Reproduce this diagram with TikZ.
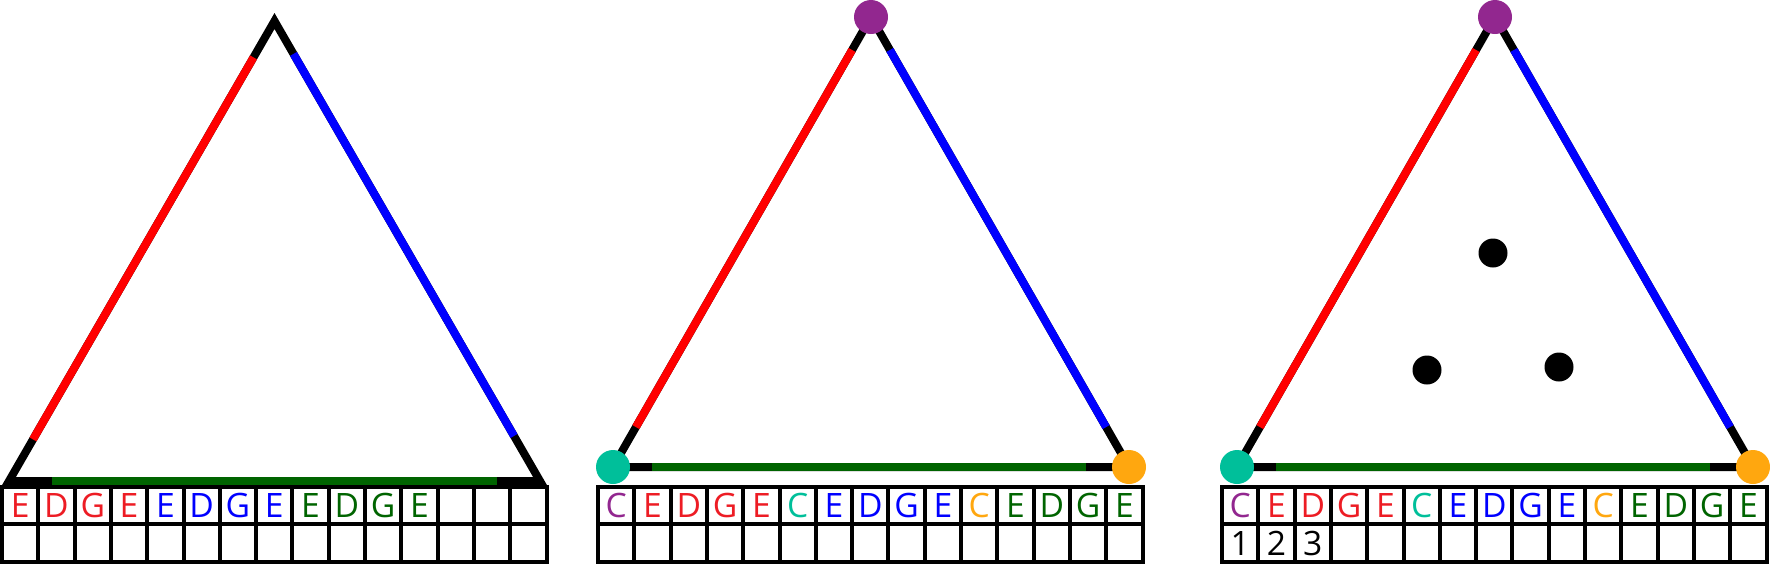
\documentclass[tikz,border=0pt]{standalone}
\usepackage{fontspec}
\setmainfont{Open Sans}
\usepackage{tikz}
\usetikzlibrary{calc}
\definecolor{cpurple}{HTML}{92278F}
\definecolor{cteal}{HTML}{00BF9A}
\definecolor{corange}{HTML}{FFA70F}
\definecolor{cgreen}{HTML}{006400}
\definecolor{cred}{HTML}{FF0000}
\definecolor{cblue}{HTML}{0000FF}
\definecolor{tred}{HTML}{ED1C24}

\tikzset{
    sideline/.style={line width=8pt, line join=miter},
    gridcell/.style={draw, line width=4pt, minimum width=36.3pt, minimum height=37.9pt, inner sep=0pt, font=\fontsize{33.6}{34}\selectfont},
    marker/.style={circle, inner sep=0pt, minimum size=34pt},
    pebble/.style={circle, fill=black, inner sep=0pt, minimum size=29pt}
}

\begin{document}
\begin{tikzpicture}[x=1pt,y=-1pt]
    \useasboundingbox (0,0) rectangle (1770,566);
    \coordinate (A1) at (9,481);
    \coordinate (B1) at (540,481);
    \coordinate (C1) at (274.5,21);
    \draw[sideline] (A1) -- (C1) -- (B1) -- cycle;
    \draw[sideline, cred] ($(A1)!48pt!(C1)$) -- ($(C1)!42pt!(A1)$);
    \draw[sideline, cblue] ($(C1)!38pt!(B1)$) -- ($(B1)!52pt!(C1)$);
    \draw[sideline, cgreen] ($(A1)!43pt!(B1)$) -- ($(B1)!43pt!(A1)$);
    \foreach \x in {2,3}{
        \pgfmathsetmacro{\shift}{(\x-2)*624}
        \coordinate (A\x) at (613+\shift,467);
        \coordinate (B\x) at (1129+\shift,467);
        \coordinate (C\x) at (871+\shift,17);
        \draw[sideline] (A\x) -- (C\x) -- (B\x) -- cycle;
        \draw[sideline, cred] ($(A\x)!46pt!(C\x)$) -- ($(C\x)!38pt!(A\x)$);
        \draw[sideline, cblue] ($(C\x)!38pt!(B\x)$) -- ($(B\x)!46pt!(C\x)$);
        \draw[sideline, cgreen] ($(A\x)!39pt!(B\x)$) -- ($(B\x)!43pt!(A\x)$);
        \node[marker, fill=cteal] (teal\x) at (A\x) {};
        \node[marker, fill=corange] (orange\x) at (B\x) {};
        \node[marker, fill=cpurple] (purple\x) at (C\x) {};
    }
    \node[pebble] (pebble1) at (1493,253) {};
    \node[pebble] (pebble2) at (1427,370) {};
    \node[pebble] (pebble3) at (1559,367) {};
    \foreach \l/\c [count=\i] in {E/tred,D/tred,G/tred,E/tred,E/cblue,D/cblue,G/cblue,E/cblue,E/cgreen,D/cgreen,G/cgreen,E/cgreen,{}/black,{}/black,{}/black}{
        \node[gridcell, text=\c] (top1\i) at (2+36.3*\i-18.15,505.5) {\l};
        \node[gridcell] (bot1\i) at (2+36.3*\i-18.15,543.4) {};
    }
    \foreach \x/\xs in {2/598,3/1222}
        \foreach \l/\c [count=\i] in {C/cpurple,E/tred,D/tred,G/tred,E/tred,C/cteal,E/cblue,D/cblue,G/cblue,E/cblue,C/corange,E/cgreen,D/cgreen,G/cgreen,E/cgreen}{
            \node[gridcell, text=\c] (top\x\i) at (\xs+36.3*\i-18.15,505.5) {\l};
            \node[gridcell] (bot\x\i) at (\xs+36.3*\i-18.15,543.4) {};
        }
    \foreach \d in {1,2,3}
        \node[font=\fontsize{33.6}{34}\selectfont] (num\d) at (bot3\d) {\d};
\end{tikzpicture}
\end{document}
